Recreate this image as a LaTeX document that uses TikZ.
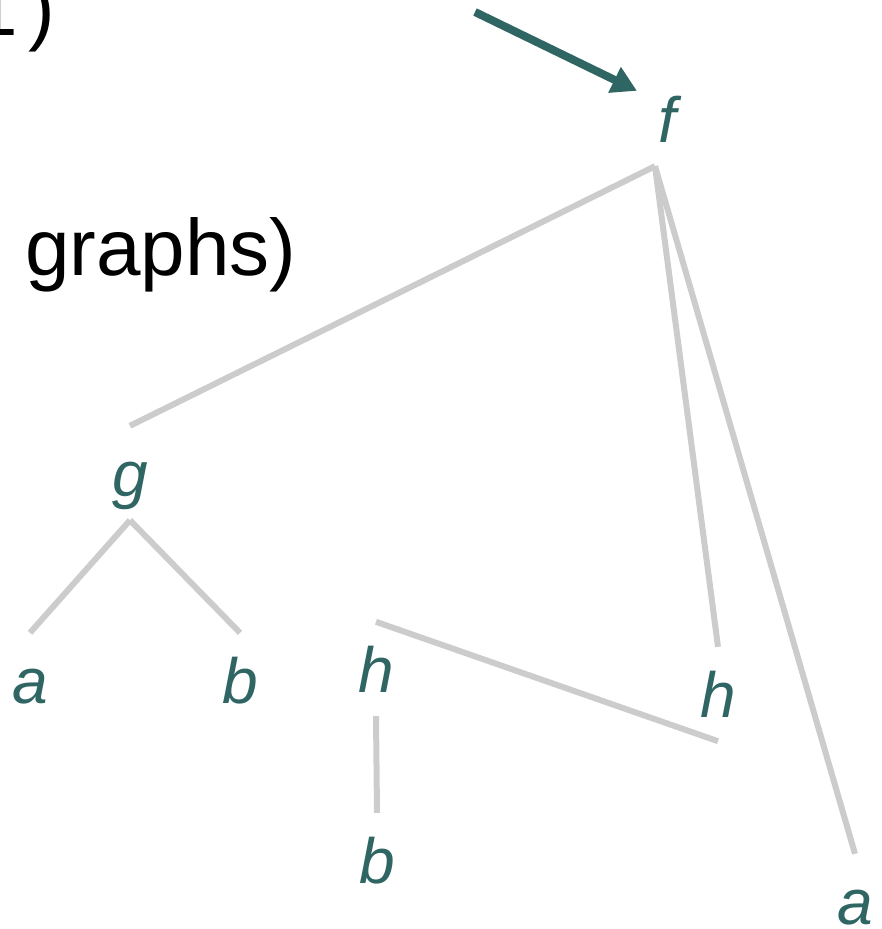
\documentclass[tikz,border=0pt]{standalone}
\usepackage{fontspec}
\setmainfont{Liberation Sans}
\usetikzlibrary{arrows.meta, positioning}
\definecolor{termteal}{RGB}{47,102,99}
\tikzset{
  term/.style={text=termteal, font=\fontsize{64}{64}\selectfont\itshape, inner sep=0pt,
    text height=70pt, text depth=24pt, anchor=base},
  link/.style={draw=black!20, line width=6pt},
  pointer/.style={-{Triangle[length=25pt, width=27pt]}, draw=termteal, line width=8pt},
  heading/.style={font=\fontsize{80}{80}\selectfont, inner sep=0pt},
}

\begin{document}
\begin{tikzpicture}[x=1pt, y=-1pt]
    \useasboundingbox (0,0) rectangle (882,929);
    % heading text, partly cut off
    \node[heading, anchor=base east] (top) at (55,35) {1\kern10pt)};
    \node[heading, anchor=base west] (sub) at (25,275) {graphs)};
    % term dag
    \node[term] (f) at (667,142) {f};
    \node[term] (g) at (130,496) {g};
    \node[term] (ga) at (30,703) {a};
    \node[term] (gb) at (240,703) {b};
    \node[term] (hl) at (376,692) {h};
    \node[term] (hb) at (377,883) {b};
    \node[term] (hr) at (718,717) {h};
    \node[term] (fa) at (855,924) {a};
    \draw[link] ([xshift=-12pt]f.south) -- (g.north);
    \draw[link] ([xshift=-12pt]f.south) -- (hr.north);
    \draw[link] ([xshift=-12pt]f.south) -- (fa.north);
    \draw[link] (g.south) -- (ga.north);
    \draw[link] (g.south) -- (gb.north);
    \draw[link] (hr.south) -- (hl.north);
    \draw[link] (hl.south) -- (hb.north);
    \coordinate (start) at (475,12);
    \draw[pointer] (start) -- ([xshift=-30pt, yshift=-19pt]f.north);
  \end{tikzpicture}
\end{document}
